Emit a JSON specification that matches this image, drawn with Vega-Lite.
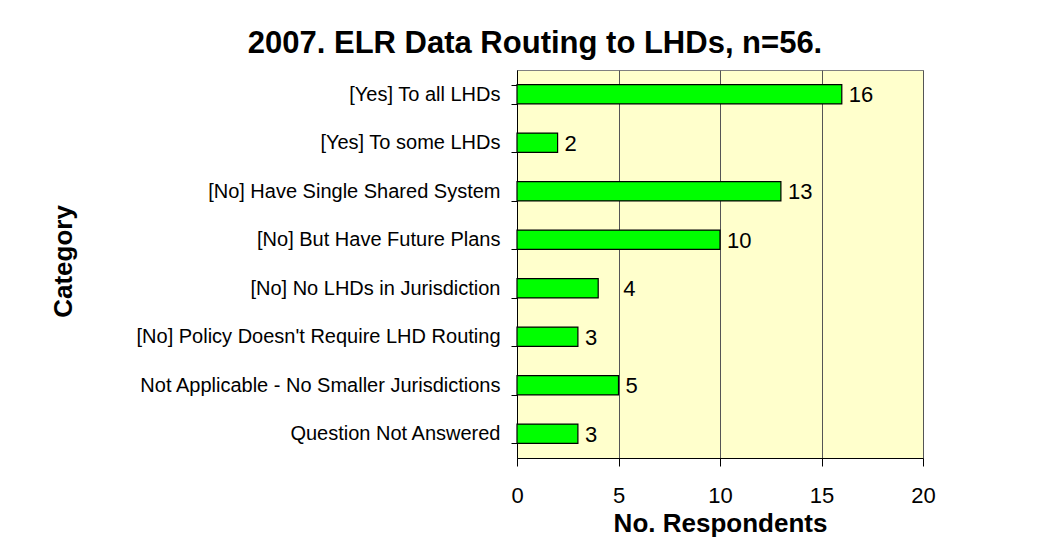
{
  "$schema": "https://vega.github.io/schema/vega-lite/v6.json",
  "width": 406,
  "height": 388,
  "autosize": {"type": "none"},
  "padding": {"left": 517, "top": 70, "right": 117, "bottom": 94},
  "background": "white",
  "title": {
    "text": "2007. ELR Data Routing to LHDs, n=56.",
    "font": "Liberation Sans",
    "fontSize": 31,
    "fontWeight": "bold",
    "color": "black",
    "anchor": "middle",
    "dx": -185,
    "dy": 38,
    "offset": 14,
    "baseline": "alphabetic"
  },
  "config": {
    "font": "Liberation Sans",
    "view": {"fill": "#FFFFCC", "stroke": "#808080", "strokeWidth": 1}
  },
  "data": {
    "values": [
      {"category": "[Yes] To all LHDs", "count": 16},
      {"category": "[Yes] To some LHDs", "count": 2},
      {"category": "[No] Have Single Shared System", "count": 13},
      {"category": "[No] But Have Future Plans", "count": 10},
      {"category": "[No] No LHDs in Jurisdiction", "count": 4},
      {"category": "[No] Policy Doesn't Require LHD Routing", "count": 3},
      {"category": "Not Applicable - No Smaller Jurisdictions", "count": 5},
      {"category": "Question Not Answered", "count": 3}
    ]
  },
  "encoding": {
    "y": {
      "field": "category",
      "type": "nominal",
      "sort": null,
      "scale": {"paddingInner": 0.6, "paddingOuter": 0.3},
      "axis": {
        "title": "Category",
        "titleFont": "Liberation Sans",
        "titleFontSize": 26,
        "titleFontWeight": "bold",
        "titleColor": "black",
        "titleAngle": -90,
        "titleX": -446,
        "titleY": 191,
        "titleAlign": "center",
        "titleBaseline": "alphabetic",
        "labelFont": "Liberation Sans",
        "labelFontSize": 20,
        "labelColor": "black",
        "labelPadding": 11,
        "labelLimit": 600,
        "tickBand": "extent",
        "tickSize": 6,
        "tickColor": "black",
        "domainColor": "black",
        "grid": false
      }
    },
    "x": {
      "field": "count",
      "type": "quantitative",
      "scale": {"domain": [0, 20], "nice": false},
      "axis": {
        "title": "No. Respondents",
        "titleFont": "Liberation Sans",
        "titleFontSize": 26,
        "titleFontWeight": "bold",
        "titleColor": "black",
        "titleY": 73,
        "titleBaseline": "alphabetic",
        "values": [0, 5, 10, 15, 20],
        "labelFont": "Liberation Sans",
        "labelFontSize": 22,
        "labelColor": "black",
        "labelBaseline": "alphabetic",
        "labelPadding": 36,
        "labelFlush": false,
        "tickSize": 8,
        "tickColor": "black",
        "domainColor": "black",
        "grid": true,
        "gridColor": "#555555",
        "gridOpacity": 1
      }
    }
  },
  "layer": [
    {
      "mark": {"type": "bar", "color": "#00FF00", "stroke": "black", "strokeWidth": 1.2}
    },
    {
      "transform": [{"filter": "datum.category !== '[No] No LHDs in Jurisdiction'"}],
      "mark": {"type": "text", "align": "left", "baseline": "middle", "dx": 7, "dy": 1, "fontSize": 22, "font": "Liberation Sans", "color": "black"},
      "encoding": {"text": {"field": "count", "type": "quantitative"}}
    },
    {
      "transform": [{"filter": "datum.category === '[No] No LHDs in Jurisdiction'"}],
      "mark": {"type": "text", "align": "left", "baseline": "middle", "dx": 25, "dy": 1, "fontSize": 22, "font": "Liberation Sans", "color": "black"},
      "encoding": {"text": {"field": "count", "type": "quantitative"}}
    }
  ]
}
